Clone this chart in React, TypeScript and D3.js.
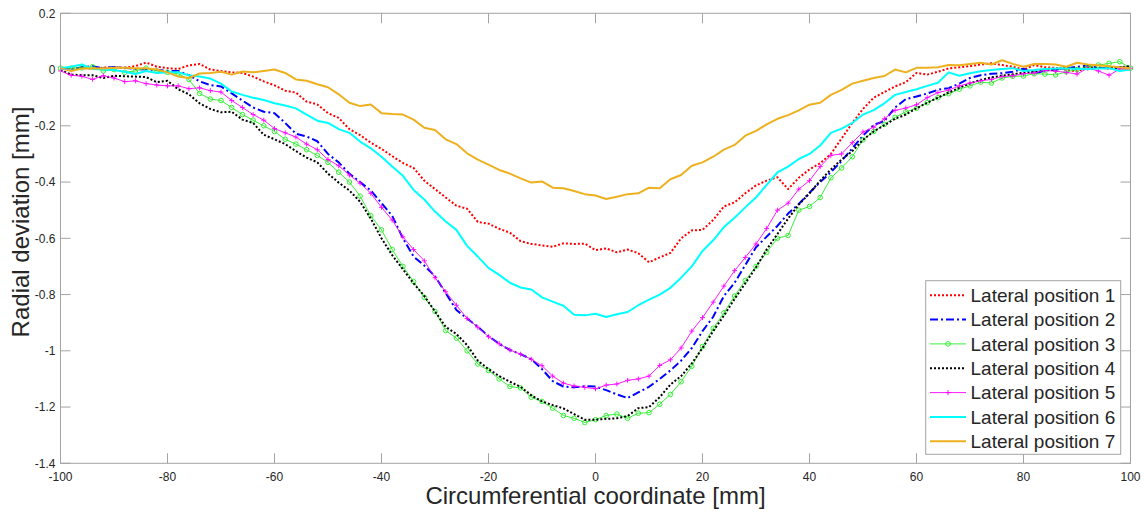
import React from "react";
import * as d3 from "d3";

// Sampling grid (mm), one value every 2 mm
const X_MM: number[] = d3.range(-100, 101, 2);

const LP1: number[] = [
  0.005, 0.004, 0.006, 0.003, 0.007, 0.009, 0.006, 0.012, 0.025, 0.01,
  0.005, 0.002, 0.015, 0.02, 0.0, -0.005, -0.01, -0.012, -0.025, -0.042,
  -0.056, -0.075, -0.082, -0.114, -0.124, -0.155, -0.172, -0.212, -0.233, -0.26,
  -0.282, -0.308, -0.332, -0.35, -0.395, -0.425, -0.455, -0.484, -0.495, -0.542,
  -0.548, -0.566, -0.58, -0.61, -0.62, -0.625, -0.63, -0.618, -0.62, -0.619,
  -0.642, -0.636, -0.65, -0.64, -0.653, -0.685, -0.668, -0.652, -0.6, -0.572,
  -0.57, -0.535, -0.487, -0.472, -0.44, -0.412, -0.395, -0.383, -0.425, -0.385,
  -0.355, -0.333, -0.3, -0.245, -0.19, -0.14, -0.1, -0.08, -0.06, -0.045,
  -0.012, -0.018, -0.008, 0.004, 0.008, 0.012, 0.018, 0.022, 0.016, 0.01,
  0.0, 0.016, 0.008, 0.006, 0.0, -0.007, 0.01, 0.006, 0.004, 0.008,
  0.005,
];

const LP2: number[] = [
  0.005, 0.0, 0.008, 0.012, 0.004, 0.009, 0.006, 0.002, 0.0, -0.001,
  -0.005, -0.005, -0.02, -0.042, -0.055, -0.06, -0.085, -0.11, -0.135, -0.15,
  -0.155, -0.19, -0.228, -0.238, -0.255, -0.3, -0.33, -0.37, -0.4, -0.43,
  -0.475, -0.52, -0.6, -0.665, -0.697, -0.735, -0.795, -0.855, -0.885, -0.915,
  -0.948, -0.975, -0.997, -1.012, -1.03, -1.065, -1.108, -1.127, -1.13, -1.126,
  -1.127, -1.14, -1.155, -1.168, -1.148, -1.128, -1.1, -1.07, -1.035, -0.99,
  -0.93, -0.879, -0.805, -0.758, -0.695, -0.632, -0.594, -0.556, -0.512, -0.478,
  -0.438, -0.4, -0.365, -0.325, -0.28, -0.235, -0.197, -0.183, -0.135, -0.105,
  -0.096, -0.085, -0.072, -0.066, -0.05, -0.03, -0.02, -0.015, -0.013, -0.008,
  0.003, -0.015, -0.003, 0.0, 0.004, 0.01, 0.014, 0.006, 0.004, 0.008,
  0.008,
];

const LP3: number[] = [
  0.005, 0.005, 0.006, 0.01, -0.005, 0.0, -0.01, -0.005, 0.005, -0.005,
  -0.01, -0.015, -0.035, -0.085, -0.105, -0.11, -0.135, -0.16, -0.18, -0.2,
  -0.22, -0.248, -0.265, -0.285, -0.305, -0.33, -0.365, -0.4, -0.45, -0.52,
  -0.57, -0.64, -0.7, -0.754, -0.81, -0.86, -0.928, -0.955, -1.0, -1.047,
  -1.07, -1.1, -1.127, -1.132, -1.165, -1.18, -1.204, -1.23, -1.24, -1.255,
  -1.245, -1.23, -1.225, -1.24, -1.222, -1.22, -1.19, -1.155, -1.11, -1.055,
  -0.985, -0.92, -0.865, -0.805, -0.75, -0.7, -0.65, -0.6, -0.59, -0.5,
  -0.487, -0.455, -0.385, -0.35, -0.31, -0.25, -0.22, -0.195, -0.17, -0.15,
  -0.138, -0.118, -0.1, -0.086, -0.07, -0.058, -0.045, -0.048, -0.03, -0.024,
  -0.023, -0.015, -0.016, -0.019, -0.008, 0.0, 0.01, 0.016, 0.022, 0.028,
  0.005,
];

const LP4: number[] = [
  -0.002, -0.018, -0.02, -0.02, -0.03, -0.022, -0.024, -0.025, -0.027, -0.045,
  -0.04, -0.07, -0.088, -0.12, -0.14, -0.152, -0.15, -0.178, -0.19, -0.232,
  -0.248, -0.265, -0.29, -0.313, -0.33, -0.37, -0.402, -0.43, -0.47, -0.53,
  -0.6, -0.66, -0.71, -0.76, -0.805, -0.86, -0.915, -0.94, -0.98, -1.035,
  -1.065, -1.09, -1.11, -1.128, -1.158, -1.18, -1.193, -1.205, -1.225, -1.245,
  -1.245, -1.242, -1.24, -1.232, -1.204, -1.2, -1.165, -1.12, -1.09, -1.045,
  -0.99, -0.93, -0.875, -0.815, -0.76, -0.703, -0.64, -0.585, -0.53, -0.48,
  -0.44, -0.395, -0.355, -0.32, -0.29, -0.25, -0.22, -0.198, -0.175, -0.16,
  -0.138, -0.118, -0.1, -0.082, -0.065, -0.049, -0.037, -0.028, -0.022, -0.017,
  -0.011, -0.008, -0.003, 0.0, 0.008, 0.002, 0.004, 0.006, 0.005, 0.008,
  0.012,
];

const LP5: number[] = [
  -0.005, -0.02, -0.024, -0.035, -0.022, -0.03, -0.043, -0.04, -0.05, -0.055,
  -0.058, -0.058, -0.068, -0.065, -0.075, -0.08, -0.11, -0.135, -0.16, -0.18,
  -0.21, -0.225, -0.24, -0.265, -0.285, -0.32, -0.342, -0.375, -0.404, -0.44,
  -0.49, -0.535, -0.595, -0.64, -0.68, -0.74, -0.79, -0.838, -0.885, -0.916,
  -0.95, -0.975, -0.997, -1.012, -1.03, -1.053, -1.09, -1.115, -1.125, -1.13,
  -1.135, -1.122, -1.118, -1.105, -1.1, -1.09, -1.052, -1.032, -0.99, -0.93,
  -0.882, -0.827, -0.77, -0.715, -0.668, -0.62, -0.565, -0.5, -0.475, -0.425,
  -0.395, -0.345, -0.305, -0.3, -0.26, -0.222, -0.205, -0.175, -0.145, -0.137,
  -0.125, -0.1, -0.082, -0.073, -0.058, -0.048, -0.04, -0.035, -0.025, -0.022,
  -0.015, -0.012, -0.003, -0.006, -0.01, -0.016, 0.005, -0.005, -0.02, 0.002,
  0.005,
];

const LP6: number[] = [
  0.005, 0.01, 0.018, 0.002, 0.0, -0.002, -0.008, -0.016, -0.005, -0.012,
  -0.01, -0.01, -0.02, -0.025, -0.032, -0.05, -0.078, -0.09, -0.1, -0.108,
  -0.12, -0.128, -0.138, -0.16, -0.182, -0.19, -0.212, -0.225, -0.256, -0.28,
  -0.31, -0.345, -0.378, -0.428, -0.462, -0.505, -0.54, -0.57, -0.627, -0.665,
  -0.705, -0.73, -0.758, -0.775, -0.782, -0.81, -0.825, -0.84, -0.872, -0.874,
  -0.868, -0.88, -0.87, -0.862, -0.838, -0.818, -0.8, -0.776, -0.74, -0.7,
  -0.645, -0.607, -0.56, -0.527, -0.49, -0.455, -0.41, -0.366, -0.345, -0.318,
  -0.3, -0.27, -0.225, -0.21, -0.19, -0.16, -0.144, -0.12, -0.09, -0.08,
  -0.07, -0.058, -0.047, -0.01, -0.022, -0.013, -0.006, -0.002, 0.002, 0.005,
  -0.005, -0.002, 0.002, 0.004, 0.005, 0.002, 0.002, 0.004, 0.005, -0.005,
  0.0,
];

const LP7: number[] = [
  0.005, -0.005, 0.004, 0.005, 0.004, 0.006, 0.006, 0.005, 0.005, 0.0,
  -0.01, -0.025, -0.03, -0.014, -0.012, -0.008, -0.018, -0.007, -0.01, -0.005,
  0.0, -0.012, -0.035, -0.04, -0.052, -0.063, -0.088, -0.118, -0.13, -0.124,
  -0.155, -0.158, -0.16, -0.178, -0.207, -0.215, -0.248, -0.265, -0.298, -0.32,
  -0.338, -0.357, -0.37, -0.387, -0.402, -0.398, -0.42, -0.422, -0.432, -0.443,
  -0.448, -0.46, -0.452, -0.443, -0.44, -0.42, -0.422, -0.39, -0.375, -0.342,
  -0.33, -0.31, -0.285, -0.268, -0.235, -0.218, -0.195, -0.175, -0.162, -0.145,
  -0.125, -0.118, -0.09, -0.072, -0.05, -0.04, -0.03, -0.023, 0.0, -0.01,
  0.006, 0.006, 0.008, 0.016, 0.015, 0.02, 0.024, 0.018, 0.033, 0.02,
  0.01, 0.02, 0.02, 0.018, 0.01, 0.024, 0.018, 0.015, 0.012, 0.008,
  0.005,
];

const SERIES_NAMES: string[] = [
  "Lateral position 1",
  "Lateral position 2",
  "Lateral position 3",
  "Lateral position 4",
  "Lateral position 5",
  "Lateral position 6",
  "Lateral position 7",
];
const SERIES_VALUES: number[][] = [LP1, LP2, LP3, LP4, LP5, LP6, LP7];

const X_TICKS: number[] = [-100, -80, -60, -40, -20, 0, 20, 40, 60, 80, 100];
const Y_TICKS: number[] = [0.2, 0, -0.2, -0.4, -0.6, -0.8, -1, -1.2, -1.4];

const X_TITLE = "Circumferential coordinate [mm]";
const Y_TITLE = "Radial deviation [mm]";

type Style = {
  color: string;
  width: number;
  dash?: string;
  marker?: "o" | "+";
};

const STYLES: Style[] = [
  { color: "#ff0000", width: 2, dash: "2,2" },
  { color: "#0000ff", width: 2, dash: "8,3,2,3" },
  { color: "#22ee22", width: 0.9, marker: "o" },
  { color: "#000000", width: 2, dash: "2,2" },
  { color: "#ff00ff", width: 0.9, marker: "+" },
  { color: "#00ffff", width: 2 },
  { color: "#edb120", width: 2 },
];

const W = 1146;
const H = 513;
const PL = 60.5;
const PR = 1130.5;
const PT = 13.3;
const PB = 463.3;

const FONT = "'Liberation Sans', Arial, Helvetica, sans-serif";
const AXIS_COLOR = "#a3a3a3";
const TEXT_COLOR = "#262626";

function fmt(v: number): string {
  return String(+v.toFixed(1));
}

function Marker({ kind, x, y, color }: { kind?: "o" | "+"; x: number; y: number; color: string }) {
  if (kind === "o") {
    return <circle cx={x} cy={y} r={2.3} fill="none" stroke={color} strokeWidth={0.9} />;
  }
  if (kind === "+") {
    return (
      <path
        d={`M${x - 2.5},${y}H${x + 2.5}M${x},${y - 2.5}V${y + 2.5}`}
        stroke={color}
        strokeWidth={0.9}
      />
    );
  }
  return null;
}

export default function App() {
  const x = d3.scaleLinear().domain([-100, 100]).range([PL, PR]);
  const y = d3.scaleLinear().domain([-1.4, 0.2]).range([PB, PT]);

  const line = d3
    .line<[number, number]>()
    .x((d) => x(d[0]))
    .y((d) => y(d[1]));

  const tickLen = 10;

  const legendX = 925.7;
  const legendY = 280.7;
  const legendW = 195;
  const legendH = 173.6;
  const rowH = 24.35;

  return (
    <svg
      width={W}
      height={H}
      style={{ position: "absolute", left: 0, top: 0, background: "#fff" }}
      fontFamily={FONT}
    >
      <rect x={0} y={0} width={W} height={H} fill="#fff" />
      {/* data */}
      <g>
        {SERIES_VALUES.map((vals, i) => {
          const st = STYLES[i];
          const pts: [number, number][] = vals.map((v, j) => [X_MM[j], v]);
          return (
            <g key={i}>
              <path
                d={line(pts) || ""}
                fill="none"
                stroke={st.color}
                strokeWidth={st.width}
                strokeDasharray={st.dash}
                strokeLinejoin="round"
              />
              {st.marker &&
                pts.map((p, j) => (
                  <Marker key={j} kind={st.marker} x={x(p[0])} y={y(p[1])} color={st.color} />
                ))}
            </g>
          );
        })}
      </g>

      {/* axes box */}
      <rect
        x={PL}
        y={PT}
        width={PR - PL}
        height={PB - PT}
        fill="none"
        stroke={AXIS_COLOR}
        strokeWidth={1}
      />
      {/* x ticks */}
      {X_TICKS.map((t) => (
        <g key={"x" + t}>
          <line x1={x(t)} x2={x(t)} y1={PB} y2={PB - tickLen} stroke={AXIS_COLOR} />
          <line x1={x(t)} x2={x(t)} y1={PT} y2={PT + tickLen} stroke={AXIS_COLOR} />
          <text
            x={x(t)}
            y={481}
            textAnchor="middle"
            fontSize={12}
            fill={TEXT_COLOR}
          >
            {fmt(t)}
          </text>
        </g>
      ))}
      {/* y ticks */}
      {Y_TICKS.map((t) => (
        <g key={"y" + t}>
          <line x1={PL} x2={PL + tickLen} y1={y(t)} y2={y(t)} stroke={AXIS_COLOR} />
          <line x1={PR} x2={PR - tickLen} y1={y(t)} y2={y(t)} stroke={AXIS_COLOR} />
          <text
            x={55.5}
            y={y(t)}
            dy="0.35em"
            textAnchor="end"
            fontSize={12}
            fill={TEXT_COLOR}
          >
            {fmt(t)}
          </text>
        </g>
      ))}

      {/* axis titles */}
      <text x={(PL + PR) / 2} y={504} textAnchor="middle" fontSize={24} fill={TEXT_COLOR}>
        {X_TITLE}
      </text>
      <text
        transform={`translate(29,222) rotate(-90)`}
        textAnchor="middle"
        fontSize={24}
        fill={TEXT_COLOR}
      >
        {Y_TITLE}
      </text>

      {/* legend */}
      <g>
        <rect
          x={legendX}
          y={legendY}
          width={legendW}
          height={legendH}
          fill="#fff"
          stroke={AXIS_COLOR}
          strokeWidth={1}
        />
        {SERIES_NAMES.map((name, i) => {
          const st = STYLES[i];
          const cy = legendY + 14.5 + i * rowH;
          return (
            <g key={name}>
              <line
                x1={930}
                x2={966}
                y1={cy}
                y2={cy}
                stroke={st.color}
                strokeWidth={st.width}
                strokeDasharray={st.dash}
              />
              {st.marker && <Marker kind={st.marker} x={948} y={cy} color={st.color} />}
              <text x={970.5} y={cy} dy="0.36em" fontSize={19} fill={TEXT_COLOR}>
                {name}
              </text>
            </g>
          );
        })}
      </g>
    </svg>
  );
}
